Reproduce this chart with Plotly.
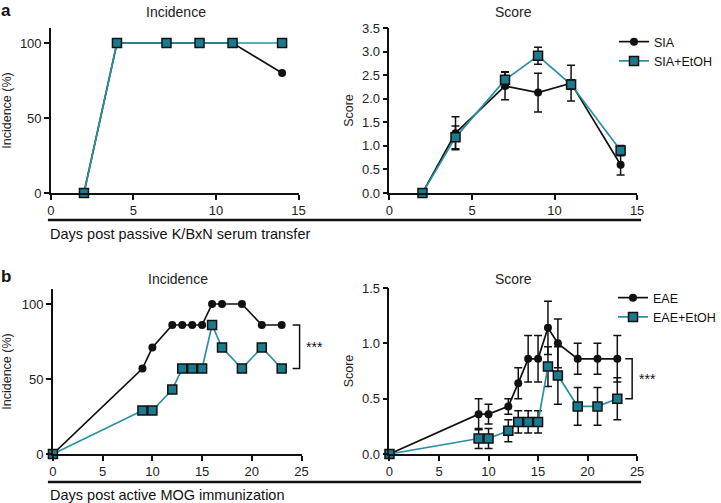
import plotly.graph_objects as go

# ---------------- data ----------------
days_a = [2, 4, 7, 9, 11, 14]
sia_inc = [0, 100, 100, 100, 100, 80]
sia_etoh_inc = [0, 100, 100, 100, 100, 100]
sia_score = [0, 1.27, 2.27, 2.13, 2.33, 0.60]
sia_score_err = [0, 0.35, 0.29, 0.41, 0.38, 0.22]
sia_etoh_score = [0, 1.18, 2.40, 2.91, 2.30, 0.90]
sia_etoh_score_err = [0, 0.24, 0.17, 0.18, 0.10, 0.11]

days_b = [0, 9, 10, 12, 13, 14, 15, 16, 17, 19, 21, 23]
eae_inc = [0, 57, 71, 86, 86, 86, 86, 100, 100, 100, 86, 86]
eae_etoh_inc = [0, 29, 29, 43, 57, 57, 57, 86, 71, 57, 71, 57]
eae_score = [0, 0.36, 0.36, 0.43, 0.64, 0.86, 0.86, 1.14, 1.00, 0.86, 0.86, 0.86]
eae_score_err = [0, 0.14, 0.09, 0.07, 0.14, 0.21, 0.21, 0.24, 0.22, 0.14, 0.14, 0.21]
eae_etoh_score = [0, 0.14, 0.14, 0.21, 0.29, 0.29, 0.29, 0.79, 0.71, 0.43, 0.43, 0.50]
eae_etoh_score_err = [0, 0.09, 0.09, 0.10, 0.10, 0.10, 0.10, 0.18, 0.26, 0.17, 0.17, 0.19]

BLACK = "#111111"
TEAL_LINE = "#2a8fa3"
TEAL_FILL = "#1c7a8e"
FONT = "Liberation Sans, Arial, sans-serif"
W, H = 721, 503


def px_x(p):
    return p / W


def px_y(p):
    return (H - p) / H


fig = go.Figure()


def add_pair(xax, yax, x, y1, y2, n1, n2, legend, showleg, e1=None, e2=None):
    err1 = dict(type="data", array=e1, visible=True, color=BLACK, thickness=1.5, width=4) if e1 else None
    err2 = dict(type="data", array=e2, visible=True, color=BLACK, thickness=1.5, width=4) if e2 else None
    fig.add_trace(go.Scatter(
        x=x, y=y1, name=n1, mode="lines+markers", xaxis=xax, yaxis=yax,
        line=dict(color=BLACK, width=1.7),
        marker=dict(symbol="circle", size=8, color=BLACK),
        error_y=err1, cliponaxis=False, legend=legend, showlegend=showleg))
    fig.add_trace(go.Scatter(
        x=x, y=y2, name=n2, mode="lines+markers", xaxis=xax, yaxis=yax,
        line=dict(color=TEAL_LINE, width=1.7),
        marker=dict(symbol="square", size=9, color=TEAL_FILL, line=dict(color=BLACK, width=1.5)),
        error_y=err2, cliponaxis=False, legend=legend, showlegend=showleg))


add_pair("x", "y", days_a, sia_inc, sia_etoh_inc, "SIA", "SIA+EtOH", "legend", False)
add_pair("x2", "y2", days_a, sia_score, sia_etoh_score, "SIA", "SIA+EtOH", "legend", True,
         sia_score_err, sia_etoh_score_err)
add_pair("x3", "y3", days_b, eae_inc, eae_etoh_inc, "EAE", "EAE+EtOH", "legend2", False)
add_pair("x4", "y4", days_b, eae_score, eae_etoh_score, "EAE", "EAE+EtOH", "legend2", True,
         eae_score_err, eae_etoh_score_err)

axis_common = dict(showline=True, linecolor=BLACK, linewidth=1.5, ticks="outside",
                   ticklen=5, tickwidth=1.5, tickcolor=BLACK, showgrid=False, zeroline=False,
                   automargin=False,
                   tickfont=dict(family=FONT, size=13, color="#222"), fixedrange=True)

ytitle_font = dict(family=FONT, size=12.5, color="#222")

layout_axes = dict(
    xaxis=dict(domain=[px_x(51), px_x(299)], range=[0, 15], dtick=5, anchor="y", **axis_common),
    yaxis=dict(domain=[px_y(193), px_y(28)], range=[0, 110], tickvals=[0, 50, 100], anchor="x",
               title=dict(text="Incidence (%)", font=ytitle_font, standoff=8), **axis_common),
    xaxis2=dict(domain=[px_x(390), px_x(638)], range=[0, 15], dtick=5, anchor="y2", **axis_common),
    yaxis2=dict(domain=[px_y(193), px_y(28)], range=[0, 3.5], dtick=0.5, tickformat=".1f", anchor="x2",
                title=dict(text="Score", font=ytitle_font, standoff=6), **axis_common),
    xaxis3=dict(domain=[px_x(53), px_x(302)], range=[0, 25], dtick=5, anchor="y3", **axis_common),
    yaxis3=dict(domain=[px_y(454), px_y(289)], range=[0, 110], tickvals=[0, 50, 100], anchor="x3",
                title=dict(text="Incidence (%)", font=ytitle_font, standoff=8), **axis_common),
    xaxis4=dict(domain=[px_x(390), px_x(638)], range=[0, 25], dtick=5, anchor="y4", **axis_common),
    yaxis4=dict(domain=[px_y(454), px_y(288)], range=[0, 1.5], dtick=0.5, tickformat=".1f", anchor="x4",
                title=dict(text="Score", font=ytitle_font, standoff=6), **axis_common),
)

shapes = []
# bottom rules under each row
for yy in (220, 482):
    shapes.append(dict(type="line", xref="paper", yref="paper", x0=px_x(48), x1=px_x(642),
                       y0=px_y(yy), y1=px_y(yy), line=dict(color=BLACK, width=2.5)))


def bracket(xref, yref, xa, xb, ya, yb):
    shapes.append(dict(type="path", xref=xref, yref=yref,
                       path=f"M {xa},{ya} L {xb},{ya} L {xb},{yb} L {xa},{yb}",
                       line=dict(color=BLACK, width=1.5)))


bracket("x3", "y3", 24.1, 24.8, eae_inc[-1], eae_etoh_inc[-1])
bracket("x4", "y4", 23.8, 24.5, eae_score[-1], eae_etoh_score[-1])

annotations = []
title_font = dict(family=FONT, size=14, color="#222")
for (xc, yc, txt) in [(176, 12, "Incidence"), (514, 12, "Score"), (178, 279, "Incidence"), (514, 279, "Score")]:
    annotations.append(dict(text=txt, x=px_x(xc), y=px_y(yc), xref="paper", yref="paper",
                            xanchor="center", yanchor="middle", showarrow=False, font=title_font))
for (yc, txt) in [(234, "Days post passive K/BxN serum transfer"), (495, "Days post active MOG immunization")]:
    annotations.append(dict(text=txt, x=px_x(48), y=px_y(yc), xref="paper", yref="paper",
                            xanchor="left", yanchor="middle", showarrow=False,
                            font=dict(family=FONT, size=14.5, color="#111")))
for (yc, txt) in [(0, "a"), (266, "b")]:
    annotations.append(dict(text=f"<b>{txt}</b>", x=px_x(0), y=px_y(yc), xref="paper", yref="paper",
                            xanchor="left", yanchor="top", showarrow=False, borderpad=0,
                            font=dict(family=FONT, size=17, color="#111")))
annotations.append(dict(text="***", x=25, y=(eae_inc[-1] + eae_etoh_inc[-1]) / 2, xref="x3", yref="y3",
                        xanchor="left", yanchor="middle", showarrow=False, xshift=2,
                        font=dict(family=FONT, size=14, color="#111")))
annotations.append(dict(text="***", x=25, y=(eae_score[-1] + eae_etoh_score[-1]) / 2, xref="x4", yref="y4",
                        xanchor="left", yanchor="middle", showarrow=False, xshift=0,
                        font=dict(family=FONT, size=14, color="#111")))

leg_common = dict(xanchor="left", yanchor="top", bgcolor="rgba(0,0,0,0)",
                  font=dict(family=FONT, size=12.5, color="#111"), tracegroupgap=0,
                  itemwidth=30, itemclick=False, itemdoubleclick=False)

fig.update_layout(
    template="none",
    width=W, height=H, margin=dict(l=0, r=0, t=0, b=0, pad=0), autosize=False,
    paper_bgcolor="white", plot_bgcolor="white",
    font=dict(family=FONT, color="#222"),
    shapes=shapes, annotations=annotations,
    legend=dict(x=px_x(614), y=px_y(27), **leg_common),
    legend2=dict(x=px_x(614), y=px_y(283), **leg_common),
    **layout_axes,
)

fig.write_html("out.html", config=dict(displayModeBar=False, responsive=False),
               post_script="document.body.style.margin='0';document.body.style.overflow='hidden';")
